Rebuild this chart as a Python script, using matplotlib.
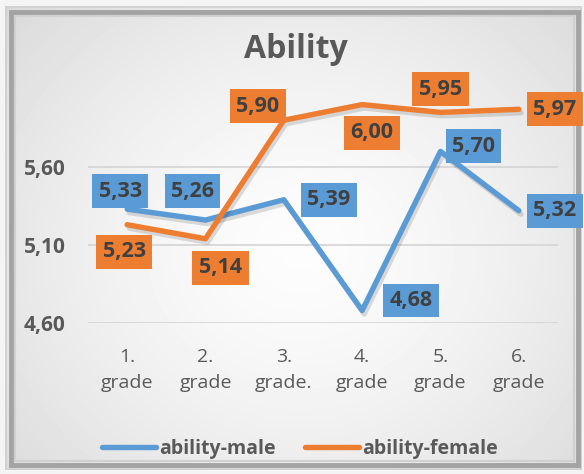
import numpy as np
import matplotlib.pyplot as plt
import matplotlib.patheffects as pe
from matplotlib.lines import Line2D
from matplotlib.patches import Rectangle

plt.rcParams['font.family'] = ['Open Sans', 'DejaVu Sans']

grades = ['1.\ngrade', '2.\ngrade', '3.\ngrade.', '4.\ngrade', '5.\ngrade', '6.\ngrade']
ability_male = [5.33, 5.26, 5.39, 4.68, 5.70, 5.32]
ability_female = [5.23, 5.14, 5.90, 6.00, 5.95, 5.97]
y_ticks = [4.60, 5.10, 5.60]

BLUE = '#5b9bd5'
ORANGE = '#ed7d31'
TXT = '#595959'
DARK = '#404040'

# label box offsets from each point, in pixels (x right, y up)
male_offsets = [(-7, 18), (-13, 29), (45, 0), (49, 10), (33, 5), (36, 0)]
female_offsets = [(-3, -27), (15, -29), (-26, 14), (10, -28), (0, 23), (36, 0)]

W, H = 584, 474
fig = plt.figure(figsize=(W / 100, H / 100), dpi=100)
fig.patch.set_facecolor('#ececec')

# soft radial background
bg = fig.add_axes([0, 0, 1, 1], zorder=-10)
yy, xx = np.mgrid[0:H, 0:W]
r = np.sqrt(((xx - 300) / 320.0) ** 2 + ((yy - 250) / 290.0) ** 2)
shade = 0.99 - 0.10 * np.clip(r, 0, 1.3) ** 1.5
bg.imshow(shade, cmap='gray', vmin=0, vmax=1, extent=(0, W, H, 0), aspect='auto')
bg.set_xlim(0, W)
bg.set_ylim(H, 0)
bg.axis('off')

# beveled chart border (under the plot so the data labels sit on top)
fr = fig.add_axes([0, 0, 1, 1], zorder=-5)
fr.set_facecolor('none')
fr.set_xlim(0, W)
fr.set_ylim(H, 0)
fr.axis('off')
fr.add_patch(Rectangle((0, 0), W, 6, color='#f4f4f4', lw=0))
fr.add_patch(Rectangle((0, H - 4), W, 4, color='#f4f4f4', lw=0))
fr.add_patch(Rectangle((0, 0), 5, H, color='#f4f4f4', lw=0))
fr.add_patch(Rectangle((W - 2, 0), 2, H, color='#f4f4f4', lw=0))
fr.add_patch(Rectangle((6, 7), W - 9, H - 12, fill=False, ec='#cfcfcf', lw=1.2))
fr.add_patch(Rectangle((10.5, 11.5), W - 17, H - 21, fill=False, ec='#a3a3a3', lw=3.5))
fr.add_patch(Rectangle((14.5, 15.5), W - 25, H - 29, fill=False, ec='#d0d0d0', lw=1.5))

ax = fig.add_axes([88 / W, 151 / H, 470 / W, 234 / H])
ax.set_facecolor('none')
x = np.arange(len(grades))

shadow = [pe.SimpleLineShadow(offset=(1.5, -2.5), shadow_color='black', alpha=0.13), pe.Normal()]
ax.plot(x, ability_male, color=BLUE, lw=3.9, solid_capstyle='round', path_effects=shadow, zorder=3)
ax.plot(x, ability_female, color=ORANGE, lw=3.9, solid_capstyle='round', path_effects=shadow, zorder=3)

def put_labels(values, offsets, color):
    for i, (v, off) in enumerate(zip(values, offsets)):
        ax.annotate(f'{v:.2f}'.replace('.', ','), (x[i], v), xytext=off,
                    textcoords='offset pixels', ha='center', va='center',
                    fontsize=15.5, fontweight='bold', color=DARK, zorder=5,
                    annotation_clip=False,
                    bbox=dict(boxstyle='square,pad=0.3', fc=color, ec='none'))

put_labels(ability_male, male_offsets, BLUE)
put_labels(ability_female, female_offsets, ORANGE)

ax.set_xlim(-0.5, len(grades) - 0.5)
ax.set_ylim(4.60, 6.10)
ax.set_yticks(y_ticks)
ax.set_yticklabels([f'{t:.2f}'.replace('.', ',') for t in y_ticks],
                   fontsize=15, fontweight='bold', color=TXT)
ax.set_xticks(x)
ax.set_xticklabels(grades, fontsize=14, color=TXT, linespacing=1.55)
ax.tick_params(axis='both', length=0)
ax.tick_params(axis='y', pad=16)
ax.tick_params(axis='x', pad=18)
ax.grid(axis='y', color='#d4d4d4', lw=1.2)
for s in ax.spines.values():
    s.set_visible(False)

fig.text(296 / W, 1 - 50 / H, 'Ability', ha='center', va='center',
         fontsize=23, fontweight='bold', color=TXT)

handles = [Line2D([], [], color=BLUE, lw=3.9, solid_capstyle='round'),
           Line2D([], [], color=ORANGE, lw=3.9, solid_capstyle='round')]
leg = fig.legend(handles, ['ability-male', 'ability-female'], loc='center',
                 bbox_to_anchor=(300 / W, 25 / H), ncol=2, frameon=False,
                 handlelength=2.8, handletextpad=0.15, columnspacing=1.5,
                 prop={'size': 14, 'weight': 'bold'})
for t in leg.get_texts():
    t.set_color(TXT)

fig.savefig('out.png', dpi=100)
